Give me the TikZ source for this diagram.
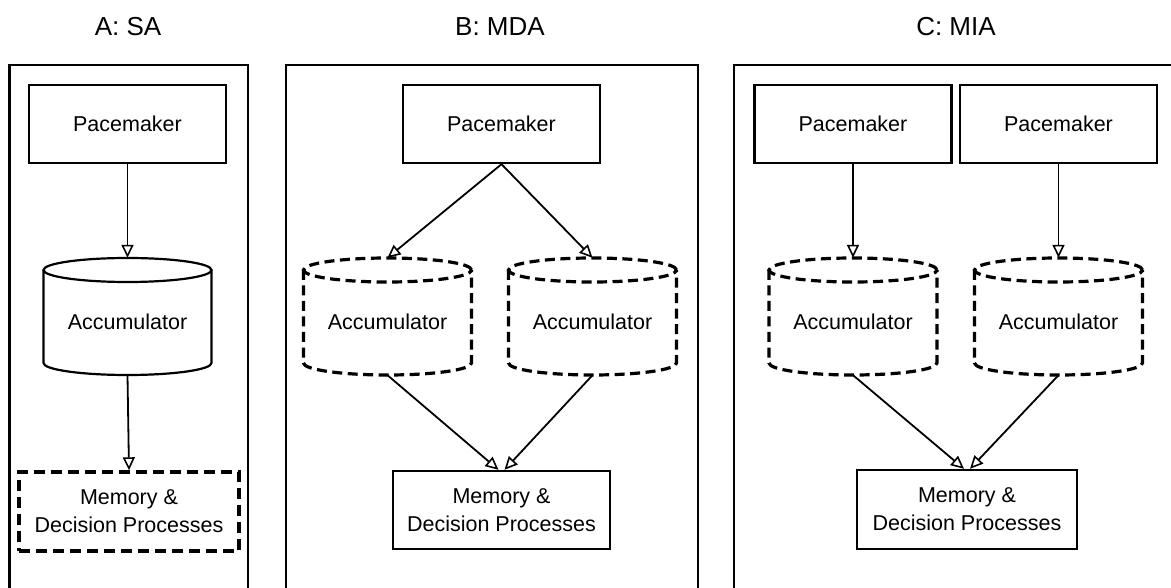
\documentclass[tikz,border=0pt]{standalone}
\usepackage{fontspec}
\setmainfont{Liberation Sans}
\usetikzlibrary{arrows.meta,calc}
\tikzset{
  bodyfont/.style={font=\fontsize{21.5}{28}\selectfont},
  titlefont/.style={font=\fontsize{26}{30}\selectfont},
  frameline/.style={line width=2.4pt},
  solidbox/.style={draw, line width=2.4pt, inner sep=0pt, bodyfont, align=center},
  dashbox/.style={draw, line width=3.4pt, dash pattern=on 11pt off 6pt, inner sep=0pt, bodyfont, align=center},
  cylarea/.style={inner sep=0pt, minimum width=168pt, minimum height=117pt},
  cylsolid/.style={line width=2.2pt},
  cyldash/.style={line width=3.2pt, dash pattern=on 10pt off 5.5pt},
  arr/.style={line width=1.8pt, -{Triangle[open,length=13pt,width=12pt,line width=1.6pt]}},
  txt/.style={inner sep=0pt, bodyfont}
}
% cylinder drawing: #1 = center x, #2 = style
\newcommand\mycyl[2]{%
  \draw[#2] ({#1-84},-270) -- ({#1-84},-363) arc[start angle=180, end angle=360, x radius=84pt, y radius=12pt] -- ({#1+84},-270);
  \draw[#2] (#1,-270) ellipse[x radius=84pt, y radius=12pt];
}
\begin{document}
\begin{tikzpicture}[x=1pt,y=1pt]
\useasboundingbox (0,0) rectangle (1171,-588);
\clip (0,0) rectangle (1171,-588);

% titles
\node[titlefont, anchor=base] (tA) at (128,-36) {A: SA};
\node[titlefont, anchor=base] (tB) at (500,-36) {B: MDA};
\node[titlefont, anchor=base] (tC) at (956,-36) {C: MIA};

% frames (open at bottom / right edge)
\draw[frameline] (9.5,-600) -- (9.5,-65) -- (247.7,-65) -- (247.7,-600);
\draw[frameline] (285.7,-600) -- (285.7,-65) -- (697.7,-65) -- (697.7,-600);
\draw[frameline] (734,-600) -- (734,-65) -- (1180,-65);

% ---------- A ----------
\node[solidbox, minimum width=197pt, minimum height=78pt] (pA) at (127.5,-124) {Pacemaker};
\node[cylarea] (cA) at (127.5,-316.5) {};
\mycyl{127.5}{cylsolid}
\node[txt] (cAt) at (127.5,-322) {Accumulator};
\node[dashbox, minimum width=220pt, minimum height=79pt] (mA) at (129,-511.5) {Memory \&\\Decision Processes};
\draw[arr] (pA.south) -- (cA.north);
\draw[arr] (cA.south) -- (mA.north);

% ---------- B ----------
\node[solidbox, minimum width=197pt, minimum height=78pt] (pB) at (501.5,-124) {Pacemaker};
\node[cylarea] (cB1) at (387.5,-316.5) {};
\node[cylarea] (cB2) at (592.5,-316.5) {};
\mycyl{387.5}{cyldash}
\mycyl{592.5}{cyldash}
\node[txt] (cB1t) at (387.5,-322) {Accumulator};
\node[txt] (cB2t) at (592.5,-322) {Accumulator};
\node[solidbox, minimum width=217pt, minimum height=78pt] (mB) at (501.5,-510) {Memory \&\\Decision Processes};
\draw[arr] (pB.south) -- (cB1.north);
\draw[arr] (pB.south) -- (cB2.north);
\draw[arr] (cB1.south) -- ($(mB.north)+(-3,0)$);
\draw[arr] (cB2.south) -- ($(mB.north)+(3,0)$);

% ---------- C ----------
\node[solidbox, minimum width=197pt, minimum height=78pt] (pC1) at (853,-124) {Pacemaker};
\node[solidbox, minimum width=197pt, minimum height=78pt] (pC2) at (1058.5,-124) {Pacemaker};
\node[cylarea] (cC1) at (853,-316.5) {};
\node[cylarea] (cC2) at (1058.5,-316.5) {};
\mycyl{853}{cyldash}
\mycyl{1058.5}{cyldash}
\node[txt] (cC1t) at (853,-322) {Accumulator};
\node[txt] (cC2t) at (1058.5,-322) {Accumulator};
\node[solidbox, minimum width=220pt, minimum height=79pt] (mC) at (967,-509.5) {Memory \&\\Decision Processes};
\draw[arr] (pC1.south) -- (cC1.north);
\draw[arr] (pC2.south) -- (cC2.north);
\draw[arr] (cC1.south) -- ($(mC.north)+(-3,0)$);
\draw[arr] (cC2.south) -- ($(mC.north)+(3,0)$);
\end{tikzpicture}
\end{document}
